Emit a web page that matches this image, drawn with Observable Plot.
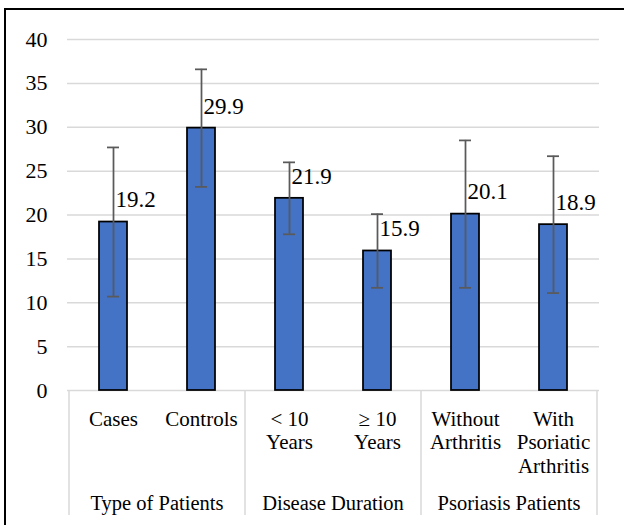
<!DOCTYPE html>
<html>
<head>
<meta charset="utf-8">
<script src="https://cdn.jsdelivr.net/npm/d3@7"></script>
<script src="https://cdn.jsdelivr.net/npm/@observablehq/plot@0.6"></script>
<style>
  html, body { margin: 0; padding: 0; background: #fff; overflow: hidden; }
  #wrap { position: relative; width: 624px; height: 525px; }
  #border { position: absolute; left: 4px; top: 8px; width: 700px; height: 600px;
            border-left: 2px solid #000; border-top: 2px solid #000; }
  #chart { position: absolute; left: 0; top: 0; }
  #chart svg text { font-family: "Liberation Serif" !important; }
</style>
</head>
<body>
<div id="wrap"><div id="border"></div><div id="chart"></div></div>
<script>
const categories = ["Cases", "Controls", "< 10 Years", "≥ 10 Years", "Without Arthritis", "With Psoriatic Arthritis"];
const tickLabels = ["Cases", "Controls", "< 10\nYears", "≥ 10\nYears", "Without\nArthritis", "With\nPsoriatic\nArthritis"];
const values = [19.2, 29.9, 21.9, 15.9, 20.1, 18.9];
const errors = [8.5, 6.7, 4.1, 4.2, 8.4, 7.8];
const groups = ["Type of Patients", "Disease Duration", "Psoriasis Patients"];
const groupOf = [0, 0, 1, 1, 2, 2];
const yTicks = [0, 5, 10, 15, 20, 25, 30, 35, 40];

const serif = "Liberation Serif";

const data = categories.map((c, i) => ({
  category: c, value: values[i], lo: values[i] - errors[i], hi: values[i] + errors[i], group: groups[groupOf[i]]
}));

const plot = Plot.plot({
  width: 624,
  height: 525,
  marginLeft: 67,
  marginRight: 25,
  marginTop: 39,
  marginBottom: 135,
  style: { fontFamily: serif, color: "#000", background: "transparent", overflow: "visible" },
  x: { domain: categories, paddingInner: 0.684, paddingOuter: 0.342 },
  y: { domain: [0, 40] },
  marks: [
    Plot.ruleY(yTicks, { stroke: "#d9d9d9", strokeWidth: 1.5 }),
    Plot.axisY({ ticks: yTicks, tickSize: 0, tickPadding: 20, fontSize: 22, fontFamily: serif, label: null }),
    Plot.axisX({ tickSize: 0, tickPadding: 18, fontSize: 21, fontFamily: serif, lineHeight: 1.14, label: null,
                 tickFormat: (d) => tickLabels[categories.indexOf(d)] }),
    Plot.barY(data, { x: "category", y: "value", fill: "#4472C4", stroke: "#000", strokeWidth: 1.75 }),
    Plot.ruleX(data, { x: "category", y1: "lo", y2: "hi", stroke: "#5a5a5a", strokeWidth: 1.75 }),
    Plot.tickY(data, { x: "category", y: "lo", stroke: "#5a5a5a", strokeWidth: 1.75, insetLeft: 8, insetRight: 8 }),
    Plot.tickY(data, { x: "category", y: "hi", stroke: "#5a5a5a", strokeWidth: 1.75, insetLeft: 8, insetRight: 8 }),
    Plot.text(data, { x: "category", y: "value", text: (d) => d.value.toFixed(1), textAnchor: "start",
                      dx: 2, dy: -22, fontSize: 23, fontFamily: serif, fill: "#000" })
  ]
});

document.getElementById("chart").appendChild(plot);

// Multi-level category axis: separators and group labels from the plot's own x scale
const sx = plot.scale("x");
const gap = (sx.step - sx.bandwidth) / 2;
const svg = d3.select(plot);
const g = svg.append("g").attr("font-family", serif);
const y0 = 390, y1 = 515;
const bounds = [];
groups.forEach((name, gi) => {
  const cats = categories.filter((c, i) => groupOf[i] === gi);
  const left = sx.apply(cats[0]) - gap;
  const right = sx.apply(cats[cats.length - 1]) + sx.bandwidth + gap;
  bounds.push(left, right);
  g.append("text")
    .attr("x", (left + right) / 2)
    .attr("y", 509.5)
    .attr("text-anchor", "middle")
    .attr("font-size", 20.5)
    .attr("fill", "#000")
    .text(name);
});
Array.from(new Set(bounds.map((b) => Math.round(b * 10) / 10))).forEach((bx) => {
  g.append("line").attr("x1", bx).attr("x2", bx).attr("y1", y0).attr("y2", y1)
    .attr("stroke", "#d9d9d9").attr("stroke-width", 1.5);
});
svg.selectAll("text").style("font-family", serif);
</script>
</body>
</html>
